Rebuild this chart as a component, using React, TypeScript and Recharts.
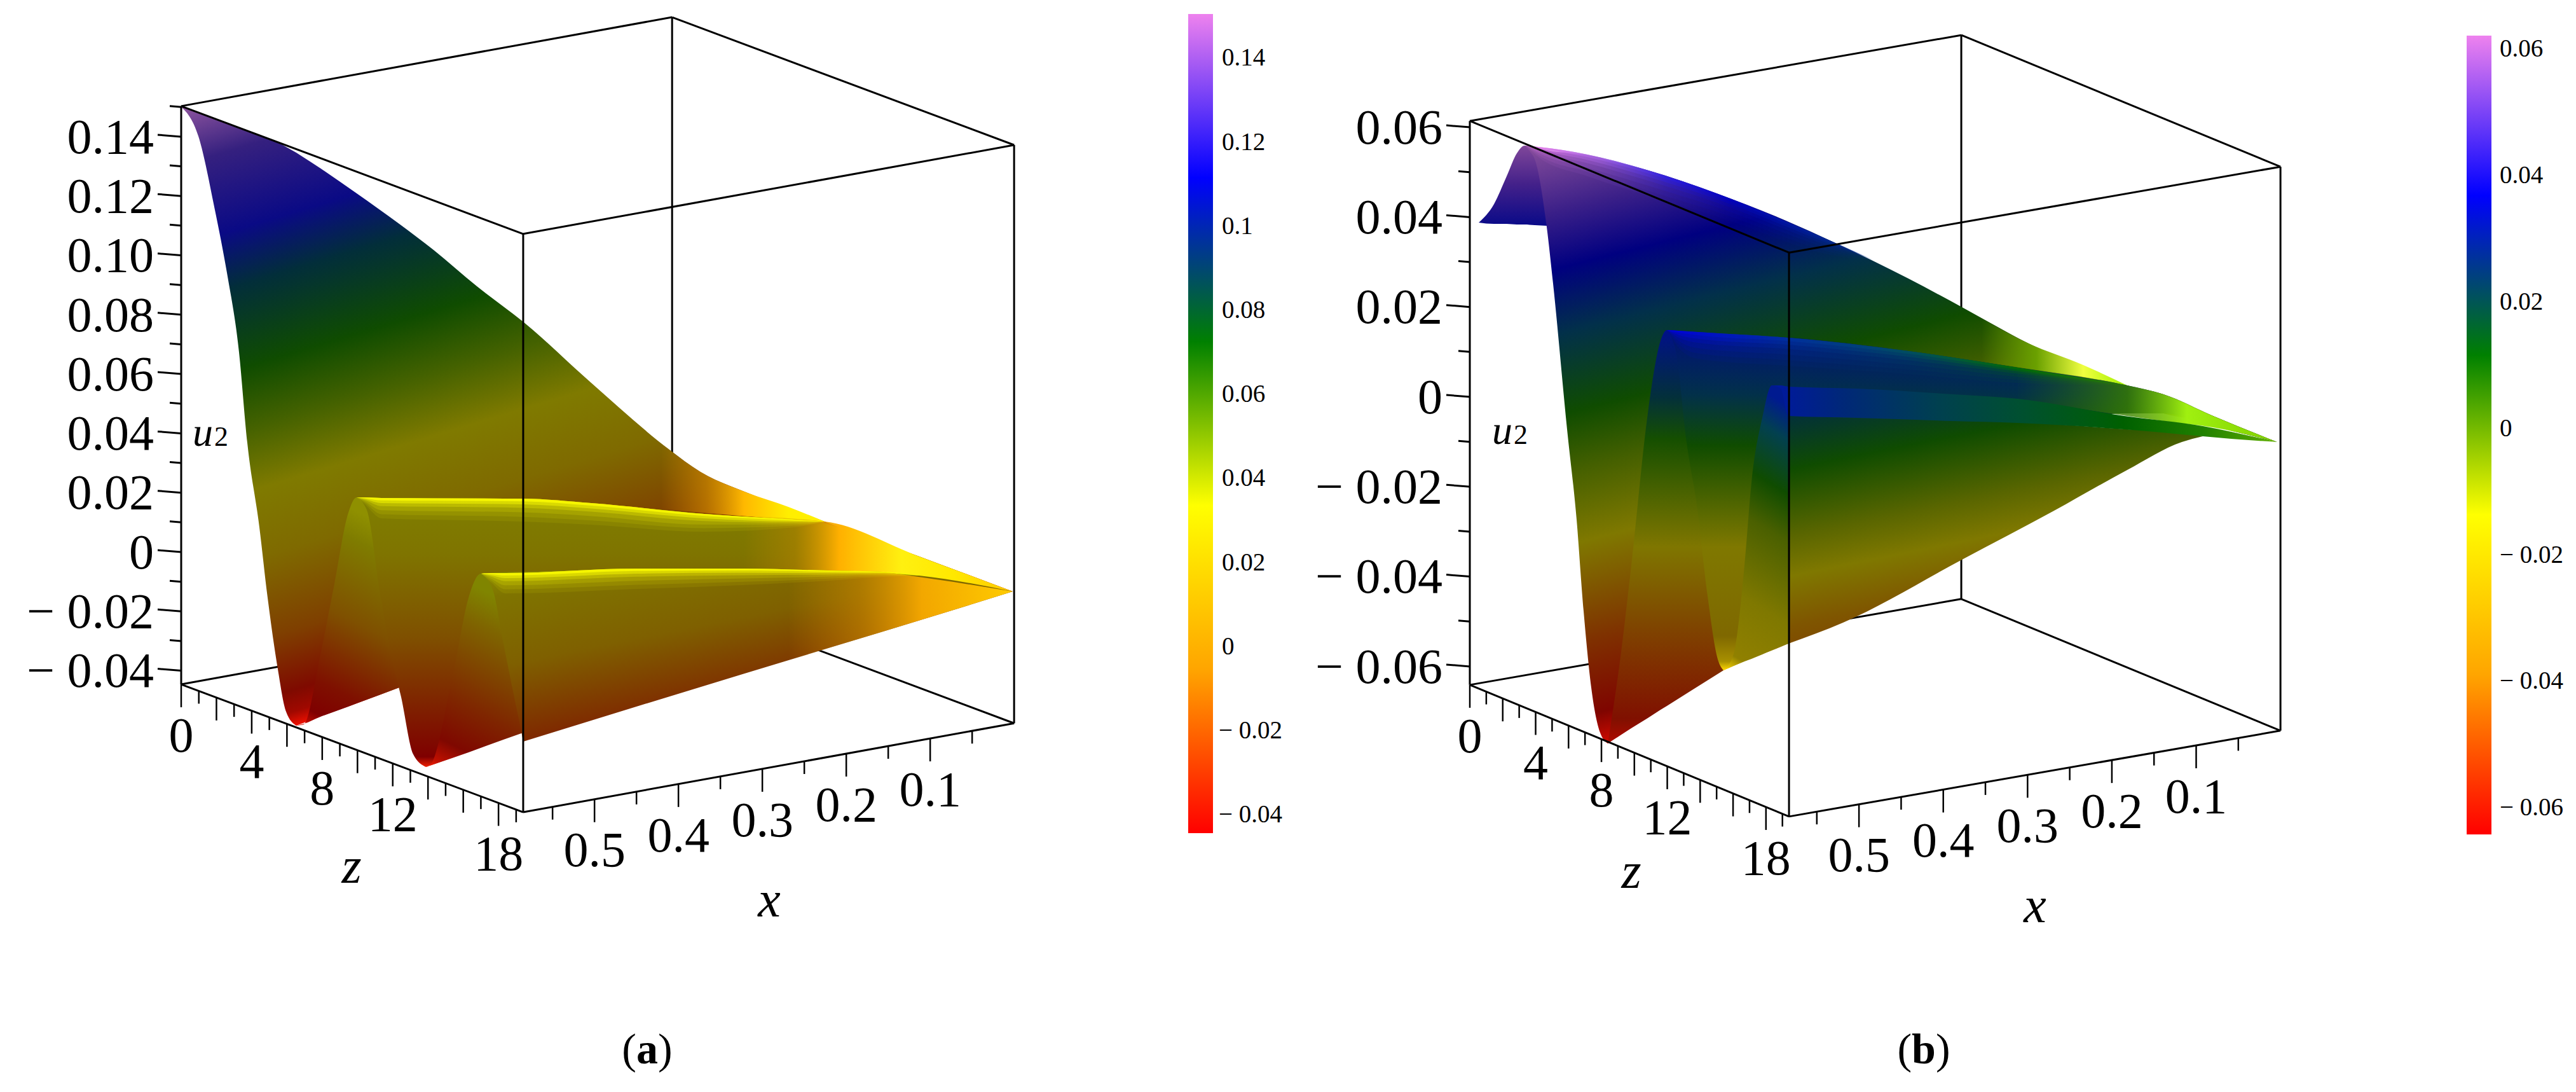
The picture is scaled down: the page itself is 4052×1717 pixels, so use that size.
import React from "react";
import { ComposedChart, Area, Line, Scatter, XAxis, YAxis } from "recharts";

const W = 4052;
const H = 1717;
const SERIF = "'Liberation Serif', serif";

type Row = [number, number, number]; // plot x, upper edge, lower edge (picture units)
type StripRow = [number, number, number]; // plot x, ridge line, depth of the bright edge
type Stop = [number, string, number?];

// axis values
const uMajorA = [-0.04, -0.02, 0, 0.02, 0.04, 0.06, 0.08, 0.1, 0.12, 0.14];
const uMinorA = [-0.03, -0.01, 0.01, 0.03, 0.05, 0.07, 0.09, 0.11, 0.13, 0.15];
const uMajorB = [-0.06, -0.04, -0.02, 0, 0.02, 0.04, 0.06];
const uMinorB = [-0.05, -0.03, -0.01, 0.01, 0.03, 0.05];
const uLabelsA = ["− 0.04", "− 0.02", "0", "0.02", "0.04", "0.06", "0.08", "0.10", "0.12", "0.14"];
const uLabelsB = ["− 0.06", "− 0.04", "− 0.02", "0", "0.02", "0.04", "0.06"];
const zTicks = [0, 1, 2, 3, 4, 5, 6, 7, 8, 9, 10, 11, 12, 13, 14, 15, 16, 17, 18, 19];
const zLabels = [0, 4, 8, 12, 18];
const xTicks = [0.05, 0.1, 0.15, 0.2, 0.25, 0.3, 0.35, 0.4, 0.45, 0.5, 0.55];
const xLabels = [0.1, 0.2, 0.3, 0.4, 0.5];

// colour bars
const barTicksA = [-0.04, -0.02, 0, 0.02, 0.04, 0.06, 0.08, 0.1, 0.12, 0.14];
const barLabelsA = ["− 0.04", "− 0.02", "0", "0.02", "0.04", "0.06", "0.08", "0.1", "0.12", "0.14"];
const barTicksB = [-0.06, -0.04, -0.02, 0, 0.02, 0.04, 0.06];
const barLabelsB = ["− 0.06", "− 0.04", "− 0.02", "0", "0.02", "0.04", "0.06"];
const barColors = ["#ee82ee", "#0000ff", "#008000", "#ffff00", "#ffa500", "#ff0000"];

// surface (a), one table per visible sheet, split at the valleys so they stay pointed
const backLeftA: Row[] = [
  [284, 167, 167], [312, 177, 214], [338, 187, 330], [357, 194, 429], [376, 201, 554], [389, 206, 696],
  [408, 213, 829], [421, 218, 940], [437, 224, 1052], [450, 231, 1119], [466, 240, 1141],
];
const backRightA: Row[] = [
  [466, 240, 1141], [500, 262, 1128], [561, 304, 1106], [628, 352, 1081], [682, 393, 1061], [750, 450, 1036],
  [823, 506, 1010], [930, 602, 990], [1053, 707, 960], [1102, 742, 950], [1176, 775, 935], [1297, 820, 930],
  [1446, 875, 930], [1593, 930, 930],
];
const rise1A: Row[] = [
  [466, 1141, 1141], [478, 1139, 1138], [504, 1029, 1127], [526, 918, 1119], [548, 806, 1111], [561, 782, 1106],
  [599, 783, 1092], [628, 783, 1081], [670, 784, 1066],
];
const faceLeft1A: Row[] = [
  [561, 782, 782], [577, 782, 802], [599, 783, 940], [615, 783, 1029], [631, 783, 1096], [650, 784, 1186], [670, 784, 1206],
];
const faceRight1A: Row[] = [
  [670, 784, 1206], [760, 784, 1174], [823, 784, 1150], [930, 791, 1120], [1108, 808, 1030], [1291, 820, 950],
  [1446, 875, 920], [1593, 930, 930],
];
const rise2A: Row[] = [
  [670, 1206, 1206], [676, 1204, 1204], [714, 1052, 1191], [737, 940, 1183], [756, 902, 1176], [823, 899, 1152],
];
const faceLeft2A: Row[] = [
  [756, 902, 902], [775, 901, 927], [791, 901, 1007], [807, 900, 1087], [820, 899, 1150], [823, 899, 1166],
];
const faceRight2A: Row[] = [
  [823, 899, 1166], [1001, 894, 1111], [1168, 894, 1060], [1303, 897, 1019], [1389, 899, 993], [1500, 915, 959], [1593, 930, 930],
];
const glowBackA: Row[] = [[1040, 697, 800], [1102, 742, 806], [1176, 775, 812], [1240, 797, 817], [1297, 820, 821]];
const glowFace1A: Row[] = [[1120, 810, 894], [1297, 820, 897], [1446, 875, 905], [1593, 930, 930]];
const glowFace2A: Row[] = [[1200, 894, 1052], [1303, 897, 1019], [1389, 899, 993], [1500, 915, 959], [1593, 930, 930]];
const edge1A: StripRow[] = [[561, 782, 0], [575, 782, 12], [600, 783, 32], [823, 784, 36], [930, 791, 34], [1108, 808, 28], [1250, 817, 12], [1297, 820, 0]];
const edge2A: StripRow[] = [[757, 902, 0], [772, 901, 14], [795, 901, 32], [1001, 894, 32], [1168, 894, 26], [1303, 897, 16], [1389, 899, 8], [1450, 905, 0]];

// surface (b)
const bumpB: Row[] = [
  [2326, 350, 350], [2350, 321, 352], [2370, 277, 352], [2386, 241, 353], [2398, 229, 353], [2414, 235, 354], [2433, 240, 355],
];
const backLeftB: Row[] = [
  [2398, 229, 229], [2408, 229, 240], [2414, 231, 250], [2433, 236, 357], [2443, 238, 446], [2465, 240, 675],
  [2480, 242, 817], [2491, 243, 961], [2503, 245, 1081], [2517, 248, 1152], [2529, 252, 1169],
];
const backRightB: Row[] = [
  [2529, 252, 1169], [2593, 268, 1120], [2700, 304, 1050], [2807, 346, 950], [2887, 382, 850], [3002, 438, 700],
  [3088, 484, 650], [3191, 540, 590], [3346, 606, 630], [3403, 620, 650], [3481, 654, 665], [3582, 695, 695],
];
const rise1B: Row[] = [
  [2529, 1169, 1169], [2549, 1033, 1156], [2566, 889, 1145], [2592, 650, 1129], [2612, 536, 1116], [2622, 519, 1110],
  [2660, 522, 1086], [2711, 525, 1054],
];
const faceLeft1B: Row[] = [
  [2622, 519, 519], [2637, 520, 558], [2653, 521, 696], [2669, 522, 794], [2686, 523, 937], [2701, 524, 1033], [2711, 525, 1054],
];
const faceRight1B: Row[] = [
  [2711, 525, 1054], [2743, 527, 1040], [2813, 531, 1012], [3002, 552, 900], [3174, 578, 700], [3346, 606, 650],
  [3403, 620, 650], [3481, 654, 670], [3582, 695, 695],
];
const rise2B: Row[] = [
  [2711, 1054, 1054], [2727, 1028, 1047], [2744, 889, 1040], [2755, 759, 1036], [2772, 657, 1029], [2787, 606, 1022],
  [2789, 606, 1021], [2813, 608, 1012],
];
const ridgeBandB: Row[] = [
  [2789, 606, 606], [2801, 606, 611], [2813, 608, 654], [2921, 611, 657], [3072, 620, 662], [3174, 627, 665],
  [3341, 654, 675], [3465, 670, 686], [3510, 679, 690], [3582, 695, 695],
];
const frontSheetB: Row[] = [
  [2813, 654, 1012], [2899, 657, 979], [3088, 662, 879], [3231, 667, 803], [3346, 675, 739], [3432, 680, 695], [3465, 686, 686],
];
const glowBackB: Row[] = [[3088, 484, 565], [3191, 540, 580], [3277, 574, 594], [3346, 606, 606]];
const glowFaceB: Row[] = [[3174, 578, 627], [3346, 606, 654], [3403, 620, 662], [3481, 654, 672], [3582, 695, 695]];
const edge1B: StripRow[] = [[2622, 519, 0], [2640, 520, 26], [2670, 522, 42], [2812, 531, 44], [3002, 552, 36], [3174, 578, 24], [3346, 606, 0]];
const edgeTopB: StripRow[] = [[2400, 229, 0], [2420, 231, 16], [2497, 243, 34], [2593, 268, 40], [2700, 304, 36], [2887, 382, 20], [2950, 410, 0]];

// share of the edge depth and strength of each soft layer
const softLayers = [[1, 0.08], [0.8, 0.1], [0.6, 0.15], [0.4, 0.25], [0.25, 0.45], [0.12, 0.75]];

const toBand = (rows: Row[]) => rows.map(([x, top, bottom]) => ({ x, band: [top, bottom] }));

// gradient running along the "height" direction of a sheet, tilted because of the 3D view
const Tilted = ({ id, x0, y0, tilt, stops }: { id: string; x0: number; y0: number; tilt: number; stops: Stop[] }) => {
  const tMax = stops[stops.length - 1][0];
  const k = tMax / (1 + tilt * tilt);
  return (
    <linearGradient id={id} gradientUnits="userSpaceOnUse" x1={x0} y1={y0} x2={x0 + tilt * k} y2={y0 + k}>
      {stops.map(([t, c, a], i) => (
        <stop key={i} offset={t / tMax} stopColor={c} stopOpacity={a ?? 1} />
      ))}
    </linearGradient>
  );
};

// gradient running left to right
const Along = ({ id, stops }: { id: string; stops: Stop[] }) => {
  const x1 = stops[0][0];
  const x2 = stops[stops.length - 1][0];
  return (
    <linearGradient id={id} gradientUnits="userSpaceOnUse" x1={x1} y1={0} x2={x2} y2={0}>
      {stops.map(([x, c, a], i) => (
        <stop key={i} offset={(x - x1) / (x2 - x1)} stopColor={c} stopOpacity={a ?? 1} />
      ))}
    </linearGradient>
  );
};

const sheet = (rows: Row[], fill: string, key: string, opacity = 1, curve: any = "monotoneX") => (
  <Area
    key={key}
    data={toBand(rows)}
    dataKey="band"
    type={curve}
    stroke="none"
    fill={`url(#${fill})`}
    fillOpacity={opacity}
    dot={false}
    activeDot={false}
    legendType="none"
    isAnimationActive={false}
  />
);

const softEdge = (rows: StripRow[], fill: string, key: string) =>
  softLayers.map(([share, alpha]) =>
    sheet(rows.map(([x, top, depth]) => [x, top, top + depth * share] as Row), fill, `${key}${share}`, alpha)
  );

const seg = (pts: { x: number; y: number }[], key: string, width = 3, zIndex?: number) => (
  <Line
    key={key}
    data={pts}
    dataKey="y"
    type="linear"
    stroke="#000"
    strokeWidth={width}
    dot={false}
    activeDot={false}
    legendType="none"
    isAnimationActive={false}
    {...(zIndex != null ? { zIndex } : {})}
  />
);

const textShape =
  (size: number, anchor: string, italic = false) =>
  (props: any) => (
    <text
      x={props.cx}
      y={props.cy + size * 0.33}
      textAnchor={anchor}
      fontFamily={SERIF}
      fontSize={size}
      fontStyle={italic ? "italic" : "normal"}
      fill="#000"
    >
      {props.payload.text}
    </text>
  );

const labels = (data: { x: number; y: number; text: any }[], size: number, anchor: string, key: string, italic = false) => (
  <Scatter key={key} data={data} shape={textShape(size, anchor, italic)} legendType="none" isAnimationActive={false} />
);

type View = {
  x0: number; y0: number; // z = 0, u = 0 on the left edge
  zdx: number; zdy: number; xdx: number; xdy: number; uScale: number;
  xMax: number; zMax: number; uMin: number; uMax: number;
};
const viewA: View = { x0: 285, y0: 868, zdx: 27.73, zdy: 10.36, xdx: 1320, xdy: -239, uScale: 4665, xMax: 0.585, zMax: 19.4, uMin: -0.0446, uMax: 0.1503 };
const viewB: View = { x0: 2312, y0: 624, zdx: 25.88, zdy: 10.67, xdx: 1326, xdy: -231.6, uScale: 7065, xMax: 0.583, zMax: 19.4, uMin: -0.0641, uMax: 0.0614 };

const project = (v: View, z: number, x: number, u: number) => ({
  x: v.x0 + z * v.zdx + (v.xMax - x) * v.xdx,
  y: v.y0 - u * v.uScale + z * v.zdy + (v.xMax - x) * v.xdy,
});

// edges of the box that sit behind the surface
const backEdges = (v: View, k: string) => {
  const bl = project(v, 0, v.xMax, v.uMin);
  const bb = project(v, 0, 0, v.uMin);
  const br = project(v, v.zMax, 0, v.uMin);
  const tb = project(v, 0, 0, v.uMax);
  return [seg([bl, bb], k + "e1", 3, 50), seg([bb, br], k + "e2", 3, 50), seg([bb, tb], k + "e3", 3, 50)];
};

const frontEdges = (v: View, k: string, uMajor: number[], uMinor: number[], uLabels: string[]) => {
  const tl = project(v, 0, v.xMax, v.uMax);
  const tb = project(v, 0, 0, v.uMax);
  const tf = project(v, v.zMax, v.xMax, v.uMax);
  const tr = project(v, v.zMax, 0, v.uMax);
  const bl = project(v, 0, v.xMax, v.uMin);
  const bf = project(v, v.zMax, v.xMax, v.uMin);
  const br = project(v, v.zMax, 0, v.uMin);
  const edges = [[tl, tb], [tl, tf], [tf, tr], [tb, tr], [tl, bl], [tf, bf], [tr, br], [bl, bf], [bf, br]];
  const out: any[] = edges.map((p, i) => seg(p, `${k}f${i}`));
  uMajor.forEach((u) => {
    const p = project(v, 0, v.xMax, u);
    out.push(seg([{ x: p.x - 37, y: p.y - 3 }, p], `${k}um${u}`));
  });
  uMinor.forEach((u) => {
    const p = project(v, 0, v.xMax, u);
    out.push(seg([{ x: p.x - 18, y: p.y - 1.5 }, p], `${k}un${u}`));
  });
  zTicks.forEach((z) => {
    const p = project(v, z, v.xMax, v.uMin);
    out.push(seg([p, { x: p.x, y: p.y + (z % 2 === 0 ? 36 : 20) }], `${k}z${z}`, 2.5));
  });
  xTicks.forEach((x, i) => {
    const p = project(v, v.zMax, x, v.uMin);
    out.push(seg([p, { x: p.x, y: p.y + (i % 2 === 1 ? 36 : 20) }], `${k}x${x}`, 2.5));
  });
  out.push(
    labels(
      uMajor.map((u, i) => {
        const p = project(v, 0, v.xMax, u);
        return { x: p.x - 43, y: p.y, text: uLabels[i] };
      }),
      78,
      "end",
      k + "ul"
    )
  );
  out.push(
    labels(
      zLabels.map((z) => {
        const p = project(v, z, v.xMax, v.uMin);
        return { x: p.x, y: p.y + 80, text: String(z) };
      }),
      78,
      "middle",
      k + "zl"
    )
  );
  out.push(
    labels(
      xLabels.map((x) => {
        const p = project(v, v.zMax, x, v.uMin);
        return { x: p.x, y: p.y + 80, text: x.toFixed(1) };
      }),
      78,
      "middle",
      k + "xl"
    )
  );
  return out;
};

const colorBar = (x1: number, x2: number, top: number, bottom: number, key: string) => (
  <Area
    key={key}
    data={[{ x: x1, band: [top, bottom] }, { x: x2, band: [top, bottom] }]}
    dataKey="band"
    type="linear"
    stroke="none"
    fill={`url(#${key})`}
    fillOpacity={1}
    dot={false}
    activeDot={false}
    legendType="none"
    isAnimationActive={false}
  />
);

const u2 = (
  <>
    <tspan fontStyle="italic">u</tspan>
    <tspan fontSize={44} dx={2}>2</tspan>
  </>
);

export default function App() {
  return (
    <div style={{ position: "absolute", left: 0, top: 0, width: W, height: H, background: "#fff" }}>
      <ComposedChart width={W} height={H} margin={{ top: 0, right: 0, bottom: 0, left: 0 }} data={[]}>
        <defs>
          <linearGradient id="barA" x1="0" y1="0" x2="0" y2="1">
            {barColors.map((c, i) => <stop key={c} offset={i / 5} stopColor={c} />)}
          </linearGradient>
          <linearGradient id="barB" x1="0" y1="0" x2="0" y2="1">
            {barColors.map((c, i) => <stop key={c} offset={i / 5} stopColor={c} />)}
          </linearGradient>

          <Tilted id="gBackA" x0={284} y0={167} tilt={0.3} stops={[[0, "#8f559f"], [93, "#35207f"], [220, "#0a0a85"], [309, "#022e3a"], [441, "#0f4c00"], [540, "#456200"], [638, "#7f7a00"], [747, "#7f6a00"], [877, "#7f3f00"], [971, "#7f0a00"], [1005, "#a00800"], [1029, "#f01000"]]} />
          <Tilted id="gRise1A" x0={520} y0={783} tilt={-0.5} stops={[[0, "#8f9000"], [47, "#7f7c00"], [177, "#7f5000"], [297, "#7f1000"], [350, "#7f0000"], [368, "#b00800"], [385, "#f01000"]]} />
          <Tilted id="gFace1A" x0={561} y0={782} tilt={0} stops={[[0, "#7f7f00"], [90, "#7f7400"], [220, "#7f5000"], [370, "#7f1000"], [408, "#7f0000"], [424, "#f02000"]]} />
          <Tilted id="gRise2A" x0={710} y0={903} tilt={-0.5} stops={[[0, "#808500"], [57, "#7f6500"], [197, "#7f2500"], [267, "#7f0800"], [305, "#c01000"], [323, "#ff2000"]]} />
          <Tilted id="gFace2A" x0={757} y0={903} tilt={0.2} stops={[[0, "#8a8a00"], [40, "#7f7400"], [150, "#7f6000"], [270, "#7f2a00"]]} />
          <Along id="gGlowBackA" stops={[[1040, "#d89000", 0], [1110, "#d89000", 0.6], [1170, "#ffb800"], [1240, "#ffee00"], [1297, "#fff000"]]} />
          <Along id="gGlowFace1A" stops={[[1170, "#c08800", 0], [1250, "#c08800", 0.45], [1320, "#ffb000"], [1418, "#fff010"], [1500, "#ffe800"], [1593, "#ffc800"]]} />
          <Along id="gGlowFace2A" stops={[[1240, "#c88800", 0], [1350, "#c88800", 0.6], [1450, "#ffb000", 0.9], [1593, "#ffcc00"]]} />
          <Along id="gYellow" stops={[[0, "#ffff00"], [4052, "#ffff00"]]} />

          <Tilted id="gBumpB" x0={2398} y0={229} tilt={0} stops={[[0, "#80479a"], [60, "#44218a"], [125, "#0a0a88"]]} />
          <Tilted id="gBackB" x0={2398} y0={229} tilt={0.25} stops={[[0, "#8a4f9c"], [117, "#3a1f88"], [206, "#000080"], [309, "#02304a"], [437, "#0f4c00"], [530, "#456000"], [645, "#7f7800"], [804, "#7f3000"], [920, "#7f0500"], [973, "#d00a00"]]} />
          <Tilted id="gRise1B" x0={2529} y0={519} tilt={0} stops={[[0, "#00108a"], [106, "#03303a"], [171, "#154f00"], [341, "#7f7600"], [466, "#7f4500"], [611, "#801000"], [650, "#b00a00"]]} />
          <Tilted id="gFace1B" x0={2622} y0={519} tilt={0} stops={[[0, "#00107a"], [101, "#02304a"], [181, "#0f4c00"], [341, "#7f7800"], [481, "#7f6800"], [521, "#a89000"], [535, "#ffd800"]]} />
          <Tilted id="gRise2B" x0={2760} y0={606} tilt={-0.6} stops={[[0, "#001a90"], [54, "#024050"], [139, "#0f4c00"], [214, "#4a6000"], [344, "#7f7800"], [445, "#908000"], [477, "#ffd800"]]} />
          <Tilted id="gFrontB" x0={2814} y0={654} tilt={0.2} stops={[[0, "#02303a"], [84, "#0f4c00"], [190, "#5a6600"], [252, "#7f7800"], [331, "#7f5500"], [370, "#7f4a00"]]} />
          <Along id="gBandB" stops={[[2789, "#0018a0"], [2900, "#002878"], [3050, "#00404f"], [3180, "#005030"], [3340, "#006000"], [3465, "#208000"], [3582, "#60b000"]]} />
          <Along id="gStrip1B" stops={[[2622, "#0000e0"], [2812, "#0030a0"], [3002, "#005060"], [3174, "#007000"], [3346, "#2a8000"]]} />
          <Along id="gTopB" stops={[[2420, "#e078e8"], [2520, "#a060e0"], [2620, "#3020e0"], [2720, "#0000c0"], [2880, "#002890"], [2950, "#002890", 0]]} />
          <Along id="gGlowBackB" stops={[[3117, "#6aa000", 0], [3203, "#6aa000"], [3277, "#f0ff40"], [3346, "#a0f000"]]} />
          <Along id="gGlowFaceB" stops={[[3170, "#2a7000", 0], [3346, "#3a8000", 0.8], [3440, "#a0f010"], [3582, "#80d000"]]} />
        </defs>

        <XAxis dataKey="x" type="number" domain={[0, W]} hide allowDataOverflow />
        <YAxis dataKey="y" type="number" domain={[0, H]} reversed hide allowDataOverflow />

        {/* (a) */}
        {backEdges(viewA, "a")}
        {sheet(backRightA, "gBackA", "s1ra")}
        {sheet(backLeftA, "gBackA", "s1la")}
        {sheet(glowBackA, "gGlowBackA", "g1a")}
        {sheet(rise1A, "gRise1A", "r1a")}
        {sheet(faceRight1A, "gFace1A", "f1ra", 1, "linear")}
        {sheet(faceLeft1A, "gFace1A", "f1la")}
        {sheet(glowFace1A, "gGlowFace1A", "g2a")}
        {softEdge(edge1A, "gYellow", "e1a")}
        {sheet(rise2A, "gRise2A", "r2a")}
        {sheet(faceRight2A, "gFace2A", "f2ra", 1, "linear")}
        {sheet(faceLeft2A, "gFace2A", "f2la")}
        {sheet(glowFace2A, "gGlowFace2A", "g3a", 1, "linear")}
        {softEdge(edge2A, "gYellow", "e2a")}
        {frontEdges(viewA, "a", uMajorA, uMinorA, uLabelsA)}

        {/* (b) */}
        {backEdges(viewB, "b")}
        {sheet(bumpB, "gBumpB", "s0b")}
        {sheet(backRightB, "gBackB", "s1rb")}
        {sheet(backLeftB, "gBackB", "s1lb")}
        {softEdge(edgeTopB, "gTopB", "etb")}
        {sheet(glowBackB, "gGlowBackB", "g1b")}
        {sheet(rise1B, "gRise1B", "r1b")}
        {sheet(faceRight1B, "gFace1B", "f1rb")}
        {sheet(faceLeft1B, "gFace1B", "f1lb")}
        {sheet(glowFaceB, "gGlowFaceB", "g2b")}
        {softEdge(edge1B, "gStrip1B", "e1b")}
        {sheet(rise2B, "gRise2B", "r2b")}
        {sheet(frontSheetB, "gFrontB", "f2b")}
        {sheet(ridgeBandB, "gBandB", "rb")}
        {frontEdges(viewB, "b", uMajorB, uMinorB, uLabelsB)}

        {/* colour bars */}
        {colorBar(1869, 1908, 22, 1310, "barA")}
        {colorBar(3880, 3919, 56, 1312, "barB")}
        {labels(barTicksA.map((t, i) => ({ x: t < 0 ? 1917 : 1922, y: 1016 - t * 6610, text: barLabelsA[i] })), 39, "start", "bla")}
        {labels(barTicksB.map((t, i) => ({ x: 3932, y: 673 - t * 9940, text: barLabelsB[i] })), 39, "start", "blb")}

        {/* axis names and captions */}
        {labels([{ x: 303, y: 680, text: u2 }, { x: 2347, y: 677, text: u2 }], 64, "start", "u2")}
        {labels([{ x: 553, y: 1362, text: "z" }, { x: 2566, y: 1370, text: "z" }, { x: 1210, y: 1415, text: "x" }, { x: 3201, y: 1424, text: "x" }], 80, "middle", "names", true)}
        {labels([{ x: 1018, y: 1650, text: <>(<tspan fontWeight="bold">a</tspan>)</> }, { x: 3026, y: 1650, text: <>(<tspan fontWeight="bold">b</tspan>)</> }], 68, "middle", "caps")}
      </ComposedChart>
    </div>
  );
}
